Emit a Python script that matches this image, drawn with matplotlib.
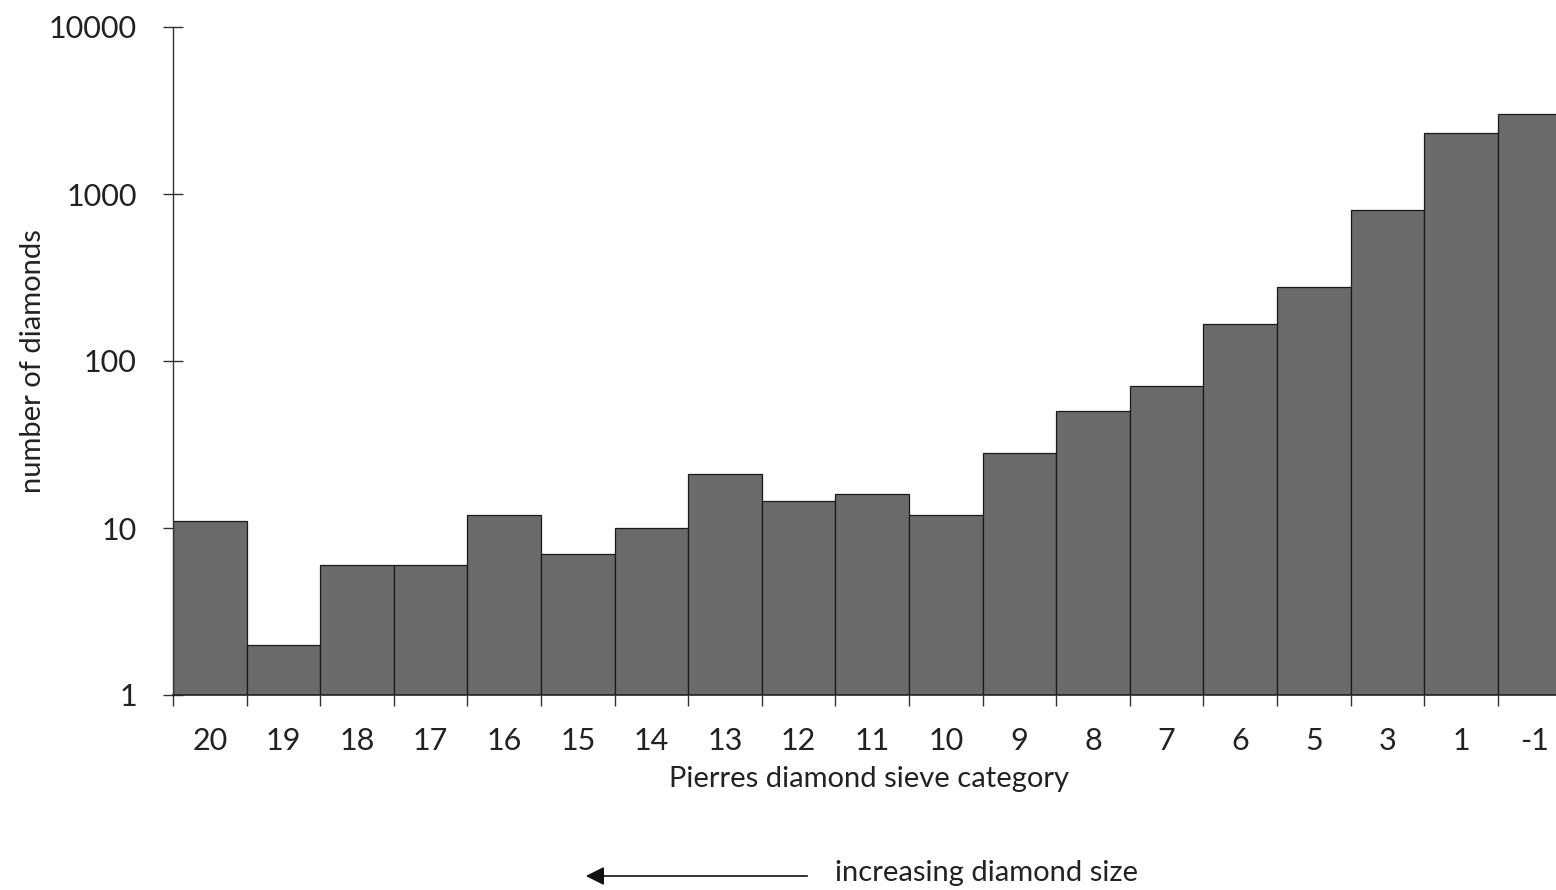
import matplotlib
matplotlib.use("Agg")
import matplotlib.pyplot as plt
from matplotlib.ticker import FixedLocator, NullLocator

categories = ["20", "19", "18", "17", "16", "15", "14", "13", "12", "11",
              "10", "9", "8", "7", "6", "5", "3", "1", "-1"]
counts = [11, 2, 6, 6, 12, 7, 10, 21, 14.5, 16, 12, 28, 50, 71, 167, 277, 802, 2318, 3013]
yticks = [1, 10, 100, 1000, 10000]
ytick_labels = ["1", "10", "100", "1000", "10000"]

plt.rcParams['font.family'] = ['Lato', 'DejaVu Sans']

W, H = 1556, 890
fig = plt.figure(figsize=(W / 100, H / 100), dpi=100)
ax_left, ax_right, ax_bottom, ax_top = 173, 1571.4, 695, 27
ax = fig.add_axes([ax_left / W, 1 - ax_bottom / H, (ax_right - ax_left) / W, (ax_bottom - ax_top) / H])

x = list(range(len(categories)))
ax.bar(x, counts, width=1.0, color="#6a6a6a", edgecolor="#1a1a1a", linewidth=0.9, zorder=2)

ax.set_yscale("log")
ax.set_ylim(1, 10000)
ax.set_xlim(-0.5, len(categories) - 0.5)

ax.yaxis.set_major_locator(FixedLocator(yticks))
ax.yaxis.set_minor_locator(NullLocator())
ax.set_yticklabels(ytick_labels)

ax.set_xticks(x)
ax.set_xticklabels(categories)
ax.set_xticks([i - 0.5 for i in range(len(categories) + 1)], minor=True)

ax.tick_params(axis="y", which="major", direction="inout", length=14, width=1.0,
               color="#333333", labelsize=22, pad=19, labelcolor="#222222")
ax.tick_params(axis="x", which="major", length=0, labelsize=22, pad=23, labelcolor="#222222")
ax.tick_params(axis="x", which="minor", direction="out", length=8, width=1.0, color="#333333")

for s in ["top", "right"]:
    ax.spines[s].set_visible(False)
ax.spines["left"].set_color("#333333")
ax.spines["left"].set_linewidth(1.0)
ax.spines["bottom"].set_color("#222222")
ax.spines["bottom"].set_linewidth(1.2)

ax.set_xlabel("Pierres diamond sieve category", fontsize=21, color="#222222")
ax.xaxis.set_label_coords(0.498, -0.125)
ax.xaxis.label.set_va("center")
ax.set_ylabel("number of diamonds", fontsize=21, color="#222222")
ax.yaxis.set_label_coords(-0.1, 0.5)
ax.yaxis.label.set_va("center")

fig.add_artist(matplotlib.patches.FancyArrowPatch(
    (810 / W, 1 - 876 / H), (583 / W, 1 - 876 / H),
    transform=fig.transFigure, arrowstyle="-|>", mutation_scale=28,
    color="#111111", lw=1.2))
fig.text(835 / W, 1 - 873 / H, "increasing diamond size", fontsize=21,
         color="#222222", ha="left", va="center")

fig.savefig("out.png", dpi=100)
